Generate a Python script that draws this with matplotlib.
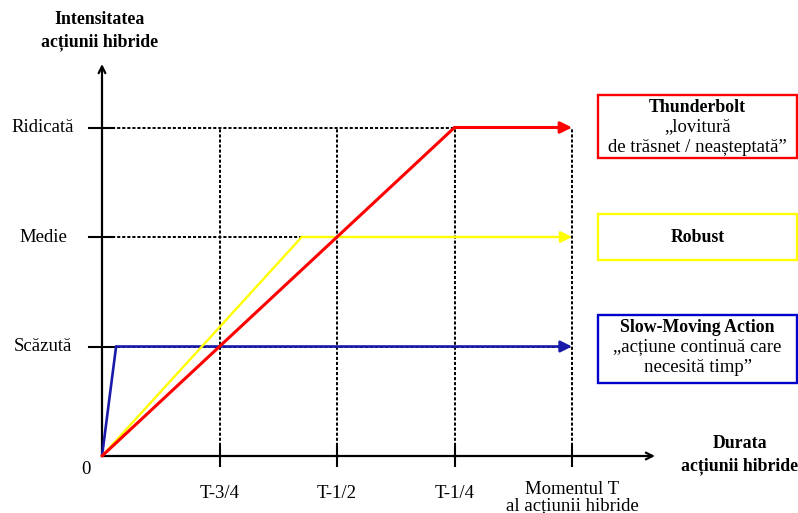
import matplotlib
matplotlib.use("Agg")
import matplotlib.pyplot as plt
from matplotlib.patches import Rectangle

# ---- data ----
x_ticks = [1, 2, 3, 4]
x_tick_labels = ["T-3/4", "T-1/2", "T-1/4", "Momentul T\nal acțiunii hibride"]
y_ticks = [1, 2, 3]
y_tick_labels = ["Scăzută", "Medie", "Ridicată"]

slow_x = [0, 0.12, 4]
slow_y = [0, 1, 1]
robust_x = [0, 1.70, 4]
robust_y = [0, 2, 2]
thunder_x = [0, 3, 4]
thunder_y = [0, 3, 3]

box_titles = ["Thunderbolt", "Robust", "Slow-Moving Action"]
box_subs = [["„lovitură", "de trăsnet / neașteptată”"], [], ["„acțiune continuă care", "necesită timp”"]]
box_colors = ["#ff0000", "#ffff00", "#0000cc"]

# ---- figure ----
W, H = 798, 513
fig = plt.figure(figsize=(W / 100, H / 100), dpi=100)
ax = fig.add_axes([0, 0, 1, 1])
ox, oy = 102, 456
sx, sy = 117.5, 109.5
ax.set_xlim(-ox / sx, (W - ox) / sx)
ax.set_ylim((oy - H) / sy, oy / sy)
ax.axis("off")

def dx(p):
    return (p - ox) / sx

def dy(p):
    return (oy - p) / sy

serif = "Liberation Serif"
fs = 13.5
fsb = 12.8

# dotted guides
for yv in y_ticks:
    ax.plot([0, 4], [yv, yv], color="black", lw=1.4, ls=(0, (1.6, 1.0)), zorder=1)
for xv in x_ticks:
    ax.plot([xv, xv], [0, 3], color="black", lw=1.4, ls=(0, (1.6, 1.0)), zorder=1)

# axes
ax.annotate("", xy=(0, dy(64)), xytext=(0, 0),
            arrowprops=dict(arrowstyle="->", lw=1.6, color="black", mutation_scale=12,
                            shrinkA=0, shrinkB=0), zorder=3)
ax.annotate("", xy=(dx(655), 0), xytext=(0, 0),
            arrowprops=dict(arrowstyle="->", lw=1.6, color="black", mutation_scale=12,
                            shrinkA=0, shrinkB=0), zorder=3)

# ticks
for xv in x_ticks:
    ax.plot([xv, xv], [dy(466), dy(446)], color="black", lw=1.5, zorder=3)
for yv in y_ticks:
    ax.plot([dx(89), dx(113)], [yv, yv], color="black", lw=1.5, zorder=3)

# tick labels
for xv, lab in zip(x_ticks[:3], x_tick_labels[:3]):
    ax.text(xv, dy(494), lab, ha="center", va="center", fontsize=fs, family=serif)
l1, l2 = x_tick_labels[3].split("\n")
ax.text(x_ticks[3], dy(489), l1, ha="center", va="center", fontsize=fs, family=serif)
ax.text(x_ticks[3], dy(506), l2, ha="center", va="center", fontsize=fs, family=serif)
for yv, lab in zip(y_ticks, y_tick_labels):
    ax.text(dx(43), yv, lab, ha="center", va="center", fontsize=fs, family=serif)
ax.text(dx(86), dy(470), "0", ha="center", va="center", fontsize=fs, family=serif)

# axis titles
ax.text(dx(100), dy(19), "Intensitatea", ha="center", va="center",
        fontsize=fsb, family=serif, fontweight="bold")
ax.text(dx(100), dy(42), "acțiunii hibride", ha="center", va="center",
        fontsize=fsb, family=serif, fontweight="bold")
ax.text(dx(740), dy(443), "Durata", ha="center", va="center",
        fontsize=fsb, family=serif, fontweight="bold")
ax.text(dx(740), dy(466), "acțiunii hibride", ha="center", va="center",
        fontsize=fsb, family=serif, fontweight="bold")

# series
def series(xs, ys, color, lw, z):
    ax.plot(xs[:-1], ys[:-1], color=color, lw=lw, zorder=z, solid_capstyle="round")
    ax.annotate("", xy=(xs[-1], ys[-1]), xytext=(xs[-2], ys[-2]),
                arrowprops=dict(arrowstyle="-|>", lw=lw, color=color, mutation_scale=17,
                                shrinkA=0, shrinkB=0), zorder=z)

series(slow_x, slow_y, "#1a1aaa", 1.9, 4)
series(robust_x, robust_y, "#ffff00", 1.7, 5)
series(thunder_x, thunder_y, "#ff0000", 2.2, 6)

# boxes
boxes_px = [(95, 158), (214, 260), (315, 383)]
bx0, bx1 = 598, 797
cx = dx((bx0 + bx1) / 2)
for (t, b), title, sub, col in zip(boxes_px, box_titles, box_subs, box_colors):
    ax.add_patch(Rectangle((dx(bx0), dy(b)), (bx1 - bx0) / sx, dy(t) - dy(b),
                           facecolor="white", edgecolor=col, lw=1.7, zorder=7))
    if sub:
        ax.text(cx, dy(t + 12), title, ha="center", va="center", fontsize=fsb,
                family=serif, fontweight="bold", zorder=8)
        for i, s in enumerate(sub):
            ax.text(cx, dy(t + 32 + 21 * i), s, ha="center", va="center", fontsize=fs,
                    family=serif, zorder=8)
    else:
        ax.text(cx, dy((t + b) / 2), title, ha="center", va="center", fontsize=fsb,
                family=serif, fontweight="bold", zorder=8)

fig.savefig("out.png", dpi=100)
